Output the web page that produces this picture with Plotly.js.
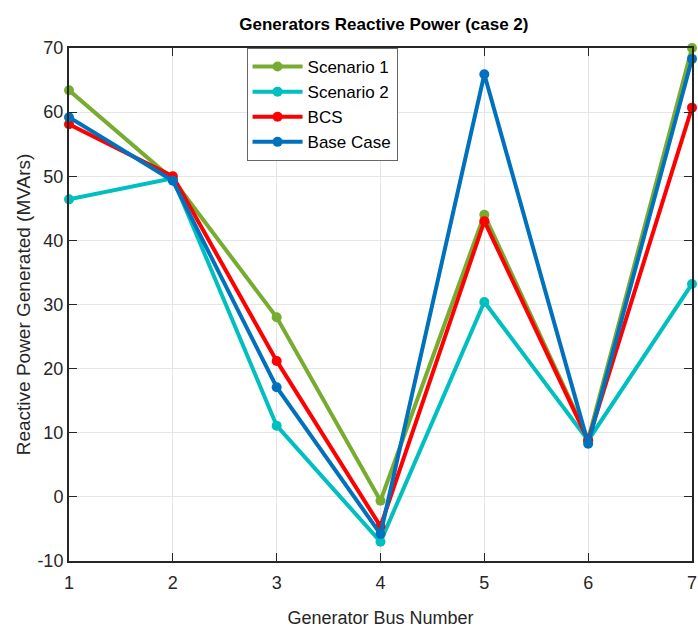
<!DOCTYPE html>
<html>
<head>
<meta charset="utf-8">
<script src="https://cdn.plot.ly/plotly-3.0.1.min.js"></script>
<style>html,body{margin:0;padding:0;background:#fff;}#chart{width:698px;height:628px;}</style>
</head>
<body>
<div id="chart"></div>
<script>
const busNumbers = [1, 2, 3, 4, 5, 6, 7];
const scenario1 = [63.4, 49.5, 28.0, -0.6, 44.0, 9.0, 70.0];
const scenario2 = [46.4, 49.7, 11.1, -7.0, 30.4, 8.8, 33.2];
const bcs = [58.1, 50.0, 21.2, -4.6, 43.0, 8.8, 60.7];
const baseCase = [59.2, 49.3, 17.1, -5.8, 65.9, 8.3, 68.3];
const yTickVals = [-10, 0, 10, 20, 30, 40, 50, 60, 70];
const yTickText = ["-10", "0", "10", "20", "30", "40", "50", "60", "70"];
const seriesNames = ["Scenario 1", "Scenario 2", "BCS", "Base Case"];
const seriesColors = ["#77AC30", "#00BFBF", "#FF0000", "#0072BD"];
const seriesData = [scenario1, scenario2, bcs, baseCase];

const FONT = "Liberation Sans Narrow, Arial Narrow, Liberation Sans, Arial, sans-serif";

const traces = seriesData.map((ys, i) => ({
  x: busNumbers, y: ys, name: seriesNames[i], type: "scatter", mode: "lines+markers",
  line: {color: seriesColors[i], width: 4},
  marker: {color: seriesColors[i], size: 10, symbol: "circle"},
  cliponaxis: false
}));

const layout = {
  width: 698, height: 628,
  margin: {l: 69, r: 6, t: 48, b: 67},
  paper_bgcolor: "#ffffff", plot_bgcolor: "#ffffff",
  font: {family: FONT, color: "#262626", size: 16},
  title: {text: "<b>Generators Reactive Power (case 2)</b>", x: 0.55, xanchor: "center", y: 0.962, yanchor: "middle",
          font: {family: FONT, size: 17, color: "#000"}},
  xaxis: {
    range: [1, 7], tickvals: busNumbers, ticktext: busNumbers.map(String),
    showgrid: true, gridcolor: "#e6e6e6", gridwidth: 1, zeroline: false,
    showline: true, linecolor: "#262626", linewidth: 2, mirror: "ticks",
    ticks: "inside", ticklen: 8, tickcolor: "#262626", tickwidth: 1,
    ticklabeloverflow: "allow", ticklabelstandoff: 4,
    tickfont: {size: 18, family: FONT, color: "#262626"},
    title: {text: "Generator Bus Number", font: {size: 18, family: FONT, color: "#262626"}, standoff: 22}
  },
  yaxis: {
    range: [-10, 70], tickvals: yTickVals, ticktext: yTickText,
    showgrid: true, gridcolor: "#e6e6e6", gridwidth: 1, zeroline: false,
    showline: true, linecolor: "#262626", linewidth: 2, mirror: "ticks",
    ticks: "inside", ticklen: 8, tickcolor: "#262626", tickwidth: 1,
    ticklabeloverflow: "allow",
    tickfont: {size: 18, family: FONT, color: "#262626"},
    title: {text: "Reactive Power Generated (MVArs)", font: {size: 19, family: FONT, color: "#262626"}, standoff: 2}
  },
  showlegend: true,
  legend: {
    x: 0.285, y: 1.0, xanchor: "left", yanchor: "top",
    bgcolor: "#ffffff", bordercolor: "#666666", borderwidth: 1,
    font: {size: 17, family: FONT, color: "#000"},
    itemwidth: 50
  }
};

Plotly.newPlot("chart", traces, layout, {displayModeBar: false, staticPlot: true});
</script>
</body>
</html>
